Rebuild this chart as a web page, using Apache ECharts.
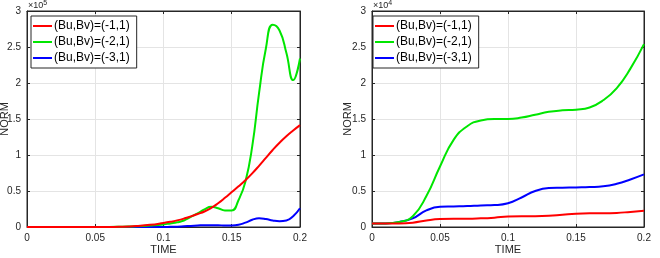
<!DOCTYPE html>
<html>
<head>
<meta charset="utf-8">
<script src="https://cdn.jsdelivr.net/npm/echarts@6/dist/echarts.min.js"></script>
<style>
  html, body { margin: 0; padding: 0; background: #fff; }
  #chart { width: 660px; height: 258px; }
</style>
</head>
<body>
<div id="chart"></div>
<script>
// left panel (NORM in units of 1e5)
const tLeft = [0, 0.01, 0.02, 0.03, 0.04, 0.05, 0.06, 0.07, 0.08, 0.09, 0.1,
  0.105, 0.11, 0.115, 0.12, 0.125, 0.13, 0.135, 0.14, 0.145, 0.15,
  0.155, 0.16, 0.165, 0.17, 0.175, 0.18, 0.185, 0.19, 0.195, 0.2]
const leftRed = [0, 0, 0, 0, 0, 0, 0, 0.005, 0.015, 0.03, 0.056,
  0.072, 0.092, 0.117, 0.147, 0.18, 0.215, 0.265, 0.33, 0.405, 0.485,
  0.565, 0.65, 0.745, 0.85, 0.96, 1.07, 1.17, 1.26, 1.34, 1.415]
const leftGreen = [0, 0, 0, 0, 0, 0, 0, 0.005, 0.01, 0.02, 0.035,
  0.05, 0.065, 0.09, 0.14, 0.19, 0.245, 0.28, 0.26, 0.23, 0.23,
  0.375, 0.63, 1.12, 1.86, 2.48, 2.81, 2.73, 2.42, 2.04, 2.34]
const leftBlue = [0, 0, 0, 0, 0, 0, 0, 0, 0, 0, 0,
  0.003, 0.005, 0.01, 0.015, 0.02, 0.025, 0.025, 0.025, 0.02, 0.02,
  0.03, 0.06, 0.1, 0.12, 0.11, 0.09, 0.08, 0.09, 0.15, 0.26]

// right panel (NORM in units of 1e4)
const tRight = [0, 0.01, 0.02, 0.03, 0.04, 0.05, 0.06, 0.07, 0.08, 0.09, 0.1,
  0.11, 0.12, 0.13, 0.14, 0.15, 0.16, 0.17, 0.18, 0.19, 0.2]
const rightRed = [0.05, 0.05, 0.05, 0.06, 0.09, 0.11, 0.115, 0.115, 0.12, 0.13, 0.145,
  0.15, 0.15, 0.155, 0.17, 0.185, 0.19, 0.19, 0.195, 0.21, 0.225]
const rightGreen = [0.05, 0.05, 0.07, 0.15, 0.43, 0.84, 1.21, 1.4, 1.48, 1.5, 1.5,
  1.52, 1.56, 1.6, 1.62, 1.63, 1.66, 1.76, 1.93, 2.2, 2.54]
const rightBlue = [0.05, 0.05, 0.07, 0.12, 0.23, 0.28, 0.285, 0.29, 0.3, 0.305, 0.33,
  0.41, 0.5, 0.54, 0.545, 0.55, 0.555, 0.565, 0.6, 0.66, 0.73]

const names = ['(Bu,Bv)=(-1,1)', '(Bu,Bv)=(-2,1)', '(Bu,Bv)=(-3,1)']
const colors = ['#ff0000', '#00e600', '#0000ff']
const xTicks = ['0', '0.05', '0.1', '0.15', '0.2']
const exponents = ['5', '4']

const font = 'Liberation Sans, Arial, sans-serif'
const axisColor = '#262626'

function pairs(t, v) {
  return t.map((x, i) => [x, v[i]])
}

function xAxis(idx, top) {
  return {
    type: 'value', gridIndex: idx, min: 0, max: 0.2, interval: 0.05,
    position: top ? 'top' : 'bottom',
    name: top ? '' : 'TIME', nameLocation: 'middle', nameGap: 17, nameMoveOverlap: false,
    nameTextStyle: { fontFamily: font, fontSize: 11, color: axisColor },
    axisLine: { show: true, onZero: false, lineStyle: { color: axisColor } },
    axisTick: { show: true, inside: true, length: 3, lineStyle: { color: axisColor } },
    axisLabel: {
      show: !top, fontFamily: font, fontSize: 10, color: axisColor, margin: 6,
      formatter: v => xTicks[Math.round(v / 0.05)]
    },
    splitLine: { show: !top, lineStyle: { color: '#e4e4e4' } }
  }
}

function yAxis(idx, right, gap) {
  return {
    type: 'value', gridIndex: idx, min: 0, max: 3, interval: 0.5,
    position: right ? 'right' : 'left',
    name: right ? '' : 'NORM', nameLocation: 'middle', nameGap: gap, nameMoveOverlap: false,
    nameTextStyle: { fontFamily: font, fontSize: 11, color: axisColor },
    axisLine: { show: true, onZero: false, lineStyle: { color: axisColor } },
    axisTick: { show: true, inside: true, length: 3, lineStyle: { color: axisColor } },
    axisLabel: { show: !right, fontFamily: font, fontSize: 10, color: axisColor, margin: 6 },
    splitLine: { show: !right, lineStyle: { color: '#e4e4e4' } }
  }
}

function legend(left) {
  return {
    left: left, top: 16, orient: 'vertical',
    backgroundColor: '#fff', borderColor: axisColor, borderWidth: 1,
    padding: [4, 7, 4, 2], itemGap: 4, itemWidth: 19, itemHeight: 2,
    icon: 'rect',
    textStyle: { fontFamily: font, fontSize: 12, color: '#000', padding: [0, 0, 0, -3] },
    data: names
  }
}

function lines(grid, t, sets) {
  return sets.map((v, i) => ({
    type: 'line', name: names[i], xAxisIndex: grid * 2, yAxisIndex: grid * 2,
    data: pairs(t, v), smooth: 0.5, symbol: 'none',
    lineStyle: { color: colors[i], width: 2 }, itemStyle: { color: colors[i] },
    z: 3 - i
  }))
}

function expLabel(x, e) {
  return {
    type: 'text', left: x, top: 0,
    style: {
      text: '×10{s|' + e + '}', fill: axisColor, fontFamily: font, fontSize: 9,
      rich: { s: { fontSize: 7, fill: axisColor, fontFamily: font, padding: [0, 0, 5, 0] } }
    }
  }
}

const chart = echarts.init(document.getElementById('chart'))
chart.setOption({
  animation: false,
  backgroundColor: '#fff',
  grid: [
    { left: 27, right: 360, top: 11, bottom: 31, outerBoundsMode: 'none', containLabel: false,
      show: true, borderColor: axisColor, borderWidth: 1 },
    { left: 372, right: 16, top: 11, bottom: 31, outerBoundsMode: 'none', containLabel: false,
      show: true, borderColor: axisColor, borderWidth: 1 }
  ],
  xAxis: [xAxis(0, false), xAxis(0, true), xAxis(1, false), xAxis(1, true)],
  yAxis: [yAxis(0, false, 17), yAxis(0, true), yAxis(1, false, 19), yAxis(1, true)],
  legend: [legend(31), legend(373)],
  graphic: [expLabel(28, exponents[0]), expLabel(373, exponents[1])],
  series: [
    ...lines(0, tLeft, [leftRed, leftGreen, leftBlue]),
    ...lines(1, tRight, [rightRed, rightGreen, rightBlue])
  ]
})
</script>
</body>
</html>
